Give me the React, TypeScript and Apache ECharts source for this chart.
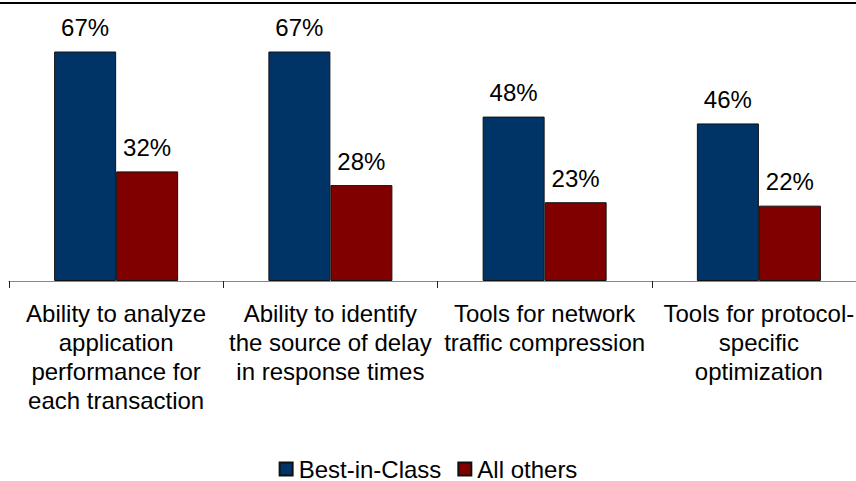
import React, { useEffect, useRef } from "react";
import * as echarts from "echarts";

// Capabilities compared between the two groups
const categories: string[] = [
  "Ability to analyze\napplication\nperformance for\neach transaction",
  "Ability to identify\nthe source of delay\nin response times",
  "Tools for network\ntraffic compression",
  "Tools for protocol-\nspecific\noptimization",
];

// Share of respondents (%)
const bestInClass: number[] = [67, 67, 48, 46];
const allOthers: number[] = [32, 28, 23, 22];

const seriesNames: string[] = ["Best-in-Class", "All others"];

const FONT = "'Liberation Sans', Arial, Helvetica, sans-serif";

export default function App() {
  const ref = useRef<HTMLDivElement>(null);

  useEffect(() => {
    if (!ref.current) return;
    const chart = echarts.init(ref.current, null, { renderer: "svg" });

    const label = {
      show: true,
      position: "top" as const,
      distance: 12,
      color: "#000",
      fontFamily: FONT,
      fontSize: 24,
      formatter: (p: any) => `${p.value}%`,
    };

    chart.setOption({
      animation: false,
      backgroundColor: "#fff",
      textStyle: { fontFamily: FONT },
      grid: {
        left: 9,
        width: 857,
        top: 7,
        height: 274,
        containLabel: false,
        outerBoundsMode: "none",
      },
      legend: {
        bottom: 0,
        left: "center",
        padding: 0,
        itemWidth: 13,
        itemHeight: 13,
        itemGap: 16,
        icon: "rect",
        textStyle: {
          fontFamily: FONT,
          fontSize: 24,
          lineHeight: 20,
          color: "#000",
          padding: [0, 0, 0, 1],
        },
        data: seriesNames,
      },
      graphic: [
        {
          type: "rect",
          left: 0,
          top: 2,
          shape: { width: 856, height: 2 },
          style: { fill: "#000" },
          silent: true,
        },
      ],
      xAxis: {
        type: "category",
        data: categories,
        axisLine: { show: true, lineStyle: { color: "#888", width: 1 } },
        axisTick: { show: true, length: 7, inside: false, lineStyle: { color: "#222" } },
        axisLabel: {
          interval: 0,
          margin: 18,
          color: "#000",
          fontFamily: FONT,
          fontSize: 24,
          lineHeight: 29,
          align: "center",
          hideOverlap: false,
        },
      },
      yAxis: {
        type: "value",
        min: 0,
        max: 80,
        show: false,
        splitLine: { show: false },
      },
      series: [
        {
          name: seriesNames[0],
          type: "bar",
          data: bestInClass,
          barWidth: 62,
          barGap: "0%",
          itemStyle: { color: "#003366", borderColor: "#111", borderWidth: 1 },
          label,
        },
        {
          name: seriesNames[1],
          type: "bar",
          data: allOthers,
          barWidth: 62,
          barGap: "0%",
          itemStyle: { color: "#800000", borderColor: "#111", borderWidth: 1 },
          label,
        },
      ],
    });

    return () => chart.dispose();
  }, []);

  return <div ref={ref} style={{ width: 856, height: 481, position: "fixed", left: 0, top: 0 }} />;
}
